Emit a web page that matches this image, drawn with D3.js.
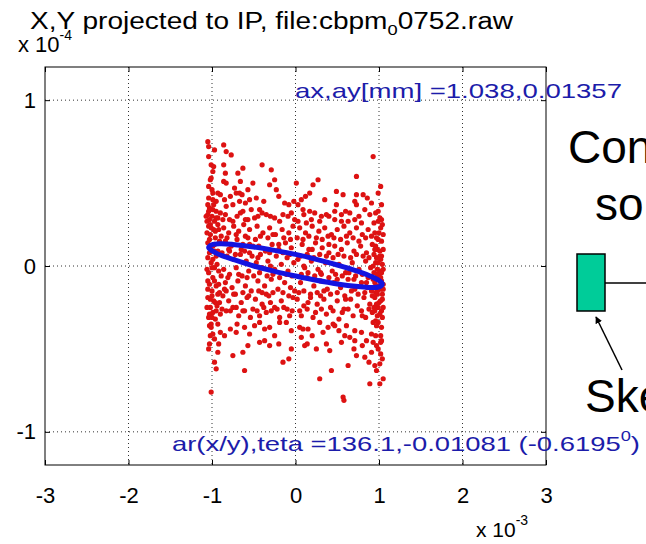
<!DOCTYPE html>
<html>
<head>
<meta charset="utf-8">
<script src="https://cdn.jsdelivr.net/npm/d3@7"></script>
<style>
body { margin: 0; background: #fff; }
text { font-family: "Liberation Sans", Arial, sans-serif; }
</style>
</head>
<body>
<svg id="chart" width="646" height="544"></svg>
<script>
// values are in axis units: x in 1e-3, y in 1e-4
const xTicks = [-3, -2, -1, 0, 1, 2, 3];
const yTicks = [-1, 0, 1];

const scatterPoints = [
  // upper left
  [-1.05,0.75],[-0.97,0.70],
  [-1.04,0.72],[-0.86,0.73],[-0.83,0.69],[-0.77,0.67],[-1.04,0.66],[-1.01,0.61],[-0.98,0.60],[-0.99,0.57],
  [-0.69,0.56],[-0.63,0.59],[-0.40,0.61],[-0.29,0.58],[-0.86,0.61],[-0.84,0.56],[-1.01,0.53],[-1.04,0.48],
  [-1.00,0.46],[-0.86,0.51],[-0.83,0.50],[-0.73,0.47],[-0.66,0.51],[-0.51,0.50],[-0.25,0.52],[-0.31,0.49],
  [-0.23,0.46],[-1.04,0.41],[-0.99,0.40],[-0.93,0.44],[-0.90,0.43],[-0.85,0.40],[-0.71,0.44],[-0.67,0.44],
  [-0.64,0.43],[-0.57,0.46],[-0.55,0.40],[-0.67,0.39],[-0.75,0.37],[-0.83,0.36],[-0.13,0.38],[-0.02,0.39],
  [-1.03,0.35],[-0.99,0.34],[-0.95,0.33],[-0.90,0.32],[-1.07,0.30],[-1.03,0.28],[-0.93,0.29],[-0.87,0.28],
  [-0.79,0.28],[-0.75,0.27],[-0.63,0.33],[-0.53,0.34],[-0.43,0.34],[-0.35,0.31],[-0.49,0.29],[-0.57,0.28],
  [-0.25,0.29],[-0.19,0.27],[-0.09,0.30],[-0.01,0.28],[-1.05,0.31],[-1.00,0.30],[-0.97,0.27],[-1.02,0.25],
  [-0.84,0.31],[-0.70,0.30],[-0.66,0.32],[-0.45,0.30],[-0.40,0.32],[-0.30,0.30],[-0.15,0.31],[-0.05,0.32],
  [-0.95,0.39],[-0.78,0.42],[-0.60,0.38],[-0.47,0.41],[-0.38,0.39],[-0.20,0.42],[-0.08,0.37],
  [-1.04,0.33],[-0.98,0.37],[-0.60,0.28],
  // upper right
  [0.93,0.66],[0.73,0.54],[0.27,0.52],[0.21,0.49],[0.17,0.44],[0.49,0.45],[0.73,0.43],[0.81,0.43],
  [0.01,0.50],[0.07,0.40],[0.03,0.37],[0.71,0.39],[0.73,0.37],[0.49,0.37],[0.91,0.38],[1.03,0.37],
  [0.09,0.34],[0.17,0.33],[0.47,0.33],[0.65,0.32],[0.83,0.34],[0.89,0.31],[0.31,0.30],[0.37,0.31],
  [0.19,0.28],[0.29,0.27],[0.47,0.28],[0.63,0.27],[0.71,0.28],[1.01,0.29],[1.03,0.28],[0.03,0.27],
  [0.13,0.26],[0.79,0.26],
  [0.10,0.31],[0.23,0.32],[0.40,0.30],[0.55,0.31],[0.60,0.33],[0.76,0.30],[0.96,0.32],
  [0.12,0.42],[0.35,0.40],[0.57,0.43],[0.86,0.41],[0.99,0.44],
  [0.99,0.27],[0.94,0.26],[0.55,0.27],
  // middle left
  [-1.04,0.24],[-0.98,0.22],[-0.93,0.25],[-1.02,0.19],[-0.96,0.17],[-1.05,0.14],[-0.99,0.12],[-0.91,0.15],
  [-1.03,0.08],[-0.95,0.06],[-1.01,0.02],[-0.97,-0.01],[-1.04,-0.04],[-0.92,-0.03],[-0.99,-0.07],[-1.03,-0.11],
  [-0.95,-0.12],[-1.00,-0.15],[-0.93,-0.17],[-1.05,-0.19],[-0.98,-0.21],[-1.02,-0.25],[-0.94,-0.24],[-0.99,-0.28],
  [-1.04,-0.31],[-0.96,-0.32],[-0.90,-0.29],[-1.01,-0.35],
  [-1.02,0.52],[-0.99,0.44],[-1.05,0.37],[-0.96,0.21],[-1.02,0.10],[-0.99,0.04],[-1.05,-0.09],[-0.96,-0.22],
  [-1.03,-0.29],[-0.99,-0.41],[-1.04,-0.50],[-0.97,-0.58],[-1.06,0.20],[-1.06,-0.02],[-1.00,-0.18],[-0.97,0.09],
  [-1.06,0.27],[-1.01,0.23],[-0.95,0.29],[-1.03,0.16],[-0.97,0.13],[-0.92,0.22],[-1.05,0.05],[-0.93,0.09],
  [-1.00,-0.01],[-0.94,0.01],[-1.05,-0.14],[-0.97,-0.09],[-0.92,-0.11],[-1.02,-0.20],[-0.95,-0.27],[-1.06,-0.25],
  [-0.91,-0.22],[-1.00,-0.31],[-0.93,-0.35],[-1.02,-0.42],[-0.92,-0.47],
  [-0.86,0.23],[-0.80,0.20],[-0.74,0.24],[-0.68,0.21],[-0.62,0.25],[-0.55,0.22],[-0.84,0.15],[-0.77,0.12],
  [-0.70,0.16],[-0.63,0.13],[-0.57,0.17],[-0.51,0.12],[-0.82,0.06],[-0.74,0.04],[-0.66,0.07],[-0.59,0.03],
  [-0.52,0.06],[-0.86,-0.02],[-0.79,-0.05],[-0.71,-0.01],[-0.64,-0.06],[-0.56,-0.03],[-0.84,-0.10],[-0.76,-0.13],
  [-0.69,-0.09],[-0.60,-0.12],[-0.53,-0.15],[-0.87,-0.18],[-0.80,-0.21],[-0.72,-0.17],[-0.65,-0.22],[-0.58,-0.19],
  [-0.83,-0.27],[-0.75,-0.25],[-0.68,-0.30],[-0.61,-0.27],[-0.54,-0.31],
  [-0.89,0.18],[-0.82,0.17],[-0.71,0.19],[-0.60,0.18],[-0.48,0.16],[-0.42,0.18],[-0.33,0.17],[-0.27,0.19],
  [-0.14,0.17],[-0.06,0.16],
  [-0.88,0.08],[-0.79,0.09],[-0.72,0.07],[-0.61,0.09],[-0.55,0.08],[-0.42,0.07],[-0.31,0.08],[-0.23,0.06],
  [-0.15,0.08],[-0.07,0.07],
  [-0.89,-0.06],[-0.81,-0.07],[-0.68,-0.05],[-0.58,-0.07],[-0.50,-0.06],[-0.43,-0.04],[-0.34,-0.06],[-0.27,-0.05],
  [-0.19,-0.07],[-0.11,-0.05],[-0.04,-0.06],
  [-0.91,-0.16],[-0.83,-0.15],[-0.74,-0.17],[-0.63,-0.16],[-0.56,-0.18],[-0.44,-0.15],[-0.35,-0.17],[-0.27,-0.16],
  [-0.15,-0.16],[-0.08,-0.18],[-0.01,-0.15],
  [-0.88,-0.26],[-0.78,-0.27],[-0.71,-0.25],[-0.63,-0.27],[-0.51,-0.26],[-0.46,-0.27],[-0.38,-0.25],[-0.29,-0.27],
  [-0.22,-0.26],[-0.14,-0.25],[-0.04,-0.27],
  [-0.80,0.10],[-0.65,0.10],[-0.45,0.05],[-0.30,0.00],[-0.10,0.05],[-0.55,0.13],[-0.20,0.13],[-0.85,-0.14],
  [-0.40,-0.16],[-0.30,-0.22],[-0.70,-0.35],
  [-0.46,0.24],[-0.39,0.20],[-0.31,0.23],[-0.24,0.19],[-0.16,0.22],[-0.08,0.20],[-0.03,0.24],[-0.44,0.12],
  [-0.36,0.09],[-0.28,0.13],[-0.20,0.10],[-0.12,0.14],[-0.05,0.11],[-0.47,0.02],[-0.40,-0.01],[-0.33,0.03],
  [-0.25,-0.02],[-0.17,0.01],[-0.09,-0.03],[-0.02,0.02],[-0.45,-0.09],[-0.37,-0.12],[-0.29,-0.08],[-0.21,-0.14],
  [-0.13,-0.10],[-0.06,-0.13],[-0.48,-0.20],[-0.40,-0.23],[-0.32,-0.18],[-0.25,-0.25],[-0.17,-0.21],[-0.10,-0.26],
  [-0.03,-0.19],[-0.43,-0.30],[-0.35,-0.28],[-0.19,-0.31],[-0.07,-0.30],
  // middle right
  [0.05,0.23],[0.12,0.20],[0.20,0.24],[0.28,0.21],[0.35,0.23],[0.43,0.19],[0.50,0.22],[0.58,0.24],
  [0.65,0.20],[0.73,0.23],[0.80,0.19],[0.87,0.22],[0.95,0.20],[1.02,0.23],
  [0.08,0.13],[0.16,0.10],[0.24,0.14],[0.32,0.11],[0.40,0.08],[0.47,0.12],[0.55,0.10],[0.62,0.14],
  [0.70,0.09],[0.78,0.12],[0.85,0.08],[0.92,0.13],[0.98,0.10],[1.03,0.06],
  [0.03,0.04],[0.11,-0.01],[0.19,0.03],[0.27,-0.02],[0.36,0.02],[0.44,-0.03],[0.52,0.01],[0.60,-0.04],
  [0.68,0.02],[0.76,-0.02],[0.84,0.03],[0.90,-0.01],[0.96,0.02],[1.01,-0.03],[1.04,0.01],
  [0.06,-0.10],[0.14,-0.07],[0.22,-0.12],[0.30,-0.09],[0.38,-0.14],[0.46,-0.10],[0.54,-0.13],[0.63,-0.08],
  [0.71,-0.14],[0.79,-0.10],[0.86,-0.13],[0.93,-0.08],[0.99,-0.12],[1.03,-0.09],
  [0.02,-0.20],[0.10,-0.24],[0.18,-0.19],[0.26,-0.23],[0.34,-0.20],[0.42,-0.25],[0.50,-0.21],[0.58,-0.26],
  [0.66,-0.20],[0.74,-0.24],[0.82,-0.19],[0.89,-0.23],[0.95,-0.19],[1.00,-0.22],[1.04,-0.17],
  [0.07,-0.30],[0.21,-0.31],[0.37,-0.29],[0.52,-0.32],[0.69,-0.30],[0.84,-0.31],[0.92,-0.28],[0.98,-0.30],
  [1.03,-0.27],[0.97,0.05],[1.00,-0.06],[0.94,-0.04],[1.02,-0.14],[0.96,-0.16],[0.99,-0.25],[1.03,0.15],
  [0.97,0.17],
  [0.02,0.17],[0.09,0.16],[0.16,0.18],[0.25,0.17],[0.32,0.16],[0.39,0.18],[0.46,0.17],[0.54,0.16],
  [0.61,0.18],[0.69,0.17],[0.76,0.15],[0.84,0.17],[0.91,0.18],[0.99,0.16],
  [0.06,0.06],[0.14,0.07],[0.22,0.05],[0.29,0.07],[0.37,0.06],[0.45,0.05],[0.51,0.07],[0.58,0.06],
  [0.66,0.05],[0.73,0.07],[0.81,0.06],[0.88,0.05],[0.94,0.07],[1.01,0.06],
  [0.07,-0.05],[0.15,-0.04],[0.23,-0.06],[0.31,-0.05],[0.40,-0.07],[0.48,-0.05],[0.56,-0.06],[0.64,-0.04],
  [0.72,-0.06],[0.80,-0.05],[0.87,-0.07],[0.98,-0.05],
  [0.04,-0.16],[0.10,-0.15],[0.18,-0.17],[0.26,-0.16],[0.34,-0.15],[0.42,-0.17],[0.50,-0.16],[0.59,-0.18],
  [0.67,-0.15],[0.75,-0.17],[0.83,-0.16],[0.91,-0.15],[0.98,-0.17],
  [0.05,-0.27],[0.14,-0.26],[0.24,-0.28],[0.31,-0.26],[0.45,-0.27],[0.56,-0.28],[0.63,-0.26],[0.79,-0.27],
  [0.88,-0.26],[0.95,-0.27],[1.01,-0.29],
  [0.10,0.00],[0.30,-0.04],[0.50,-0.08],[0.70,-0.08],[0.85,-0.10],[0.20,0.10],[0.40,0.13],[0.30,-0.18],
  [0.60,-0.20],[0.15,-0.22],[0.80,-0.30],
  [1.02,0.48],[0.99,0.33],[1.04,0.25],[0.96,0.12],[1.02,0.04],[0.99,-0.07],[1.04,-0.20],[0.96,-0.33],
  [1.02,-0.42],[0.99,-0.50],[1.04,-0.56],[0.97,-0.63],[1.05,0.10],[1.05,-0.11],[1.00,0.20],[0.97,-0.23],
  [1.05,-0.02],[0.98,-0.02],[0.93,0.00],[1.02,-0.07],[0.95,-0.10],[1.05,-0.14],[0.98,-0.15],[0.92,-0.18],
  [1.02,-0.21],[1.05,-0.25],[0.94,-0.25],[0.99,-0.34],[1.04,-0.31],[0.93,-0.34],[1.01,0.09],[0.95,0.10],
  [1.05,0.19],[0.99,0.02],[1.03,-0.04],
  // lower left
  [-1.03,-0.36],[-1.01,-0.37],[-0.85,-0.42],[-0.71,-0.40],[-0.61,-0.37],[-0.49,-0.36],[-0.43,-0.34],[-0.37,-0.38],
  [-0.31,-0.37],[-0.19,-0.34],[-0.11,-0.34],[-0.05,-0.39],[-1.03,-0.47],[-0.93,-0.52],[-0.75,-0.54],[-0.63,-0.52],
  [-0.43,-0.46],[-0.37,-0.45],[-0.31,-0.48],[-0.05,-0.50],[-0.15,-0.58],[-0.08,-0.56],[-0.61,-0.63],[-1.01,-0.76],
  [-0.90,-0.40],[-0.78,-0.38],[-0.55,-0.41],[-0.25,-0.42],[-0.97,-0.44],[-0.20,-0.47],[-0.95,-0.62],[-0.57,-0.48],
  // lower right
  [0.05,-0.37],[0.09,-0.38],[0.15,-0.38],[0.29,-0.34],[0.39,-0.37],[0.47,-0.36],[0.61,-0.36],[0.71,-0.39],
  [0.79,-0.40],[0.91,-0.41],[0.97,-0.36],[1.03,-0.37],[0.07,-0.43],[0.11,-0.48],[0.14,-0.47],[0.37,-0.47],
  [0.41,-0.51],[0.55,-0.46],[0.59,-0.42],[0.71,-0.45],[0.70,-0.50],[0.73,-0.54],[0.83,-0.55],[0.93,-0.46],
  [0.97,-0.48],[1.02,-0.46],[0.91,-0.52],[1.02,-0.53],[1.01,-0.59],[0.95,-0.60],[0.63,-0.60],[0.43,-0.63],
  [0.29,-0.68],[1.05,-0.68],[1.01,-0.71],[0.89,-0.71],[0.57,-0.79],[0.58,-0.81],
  [0.20,-0.42],[0.33,-0.40],[0.52,-0.39],[0.65,-0.43],[0.85,-0.45],[0.25,-0.50],[0.80,-0.48],[0.88,-0.58],
  [1.03,-0.45],[0.96,-0.42],[0.45,-0.35]
];

// fitted beam ellipse
const ellipsePoints = [
  [-1.04,0.112],[-1.0,0.128],[-0.9,0.134],[-0.75,0.13],[-0.5,0.115],[-0.25,0.094],[0,0.07],
  [0.25,0.04],[0.5,0.006],[0.75,-0.033],[0.9,-0.062],[1.0,-0.088],[1.04,-0.108],
  [1.0,-0.126],[0.9,-0.13],[0.75,-0.124],[0.5,-0.108],[0.25,-0.086],[0,-0.06],
  [-0.25,-0.032],[-0.5,0.0],[-0.75,0.04],[-0.9,0.066],[-1.0,0.092]
];

const svg = d3.select("#chart");
svg.append("rect").attr("width", 646).attr("height", 544).attr("fill", "#fff");

const x = d3.scaleLinear().domain([-3, 3]).range([45, 546]);
const y = d3.scaleLinear().domain([-1.2, 1.2]).range([465, 67]);

const plot = svg.append("g");

// dotted grid
plot.selectAll("line.gx")
  .data(xTicks.slice(1, -1))
  .enter()
  .append("line")
  .attr("class", "gx")
  .attr("x1", d => x(d)).attr("x2", d => x(d))
  .attr("y1", y(1.2)).attr("y2", y(-1.2))
  .attr("stroke", "#333")
  .attr("stroke-dasharray", "1,3");

plot.selectAll("line.gy")
  .data(yTicks)
  .enter()
  .append("line")
  .attr("class", "gy")
  .attr("y1", d => y(d)).attr("y2", d => y(d))
  .attr("x1", x(-3)).attr("x2", x(3))
  .attr("stroke", "#333")
  .attr("stroke-dasharray", "1,3");

// scatter
plot.selectAll("circle.pt")
  .data(scatterPoints)
  .enter()
  .append("circle")
  .attr("class", "pt")
  .attr("cx", d => x(d[0]))
  .attr("cy", d => y(d[1]))
  .attr("r", 2.6)
  .attr("fill", "#dd1212");

// ellipse
const line = d3.line()
  .x(d => x(d[0]))
  .y(d => y(d[1]))
  .curve(d3.curveCatmullRomClosed);

plot.append("path")
  .attr("d", line(ellipsePoints))
  .attr("fill", "none")
  .attr("stroke", "#1414e0")
  .attr("stroke-width", 5);

// axes, ticks pointing inward
const axisStyle = g => {
  g.select(".domain").remove();
  g.selectAll("text")
    .style("font-size", "22px")
    .style("font-family", "'Liberation Sans', Arial, sans-serif")
    .attr("fill", "#000");
};

const fmt = d => String(d);

svg.append("g")
  .attr("transform", `translate(0,${y(-1.2)})`)
  .call(d3.axisBottom(x).tickValues(xTicks).tickFormat(fmt).tickSizeInner(-5).tickSizeOuter(0).tickPadding(22))
  .call(axisStyle);

svg.append("g")
  .attr("transform", `translate(0,${y(1.2)})`)
  .call(d3.axisTop(x).tickValues(xTicks).tickFormat("").tickSizeInner(-5).tickSizeOuter(0))
  .call(axisStyle);

svg.append("g")
  .attr("transform", `translate(${x(-3)},0)`)
  .call(d3.axisLeft(y).tickValues(yTicks).tickFormat(fmt).tickSizeInner(-5).tickSizeOuter(0).tickPadding(9))
  .call(axisStyle);

svg.append("g")
  .attr("transform", `translate(${x(3)},0)`)
  .call(d3.axisRight(y).tickValues(yTicks).tickFormat("").tickSizeInner(-5).tickSizeOuter(0))
  .call(axisStyle);

svg.append("rect")
  .attr("x", x(-3)).attr("y", y(1.2))
  .attr("width", x(3) - x(-3)).attr("height", y(-1.2) - y(1.2))
  .attr("fill", "none")
  .attr("stroke", "#000");

// exponent labels
const expY = svg.append("text").attr("x", 18).attr("y", 52).style("font-size", "22px");
expY.append("tspan").text("x 10");
expY.append("tspan").attr("dy", -12).style("font-size", "14px").text("-4");

const expX = svg.append("text").attr("x", 476).attr("y", 537).style("font-size", "21px");
expX.append("tspan").text("x 10");
expX.append("tspan").attr("dy", -12).style("font-size", "14px").text("-3");

// title, drawn after the exponent as in the figure
const title = svg.append("text").attr("x", 30).attr("y", 29).style("font-size", "23px")
  .attr("textLength", 483).attr("lengthAdjust", "spacingAndGlyphs");
title.append("tspan").text("X,Y projected to IP, file:cbpm");
title.append("tspan").attr("dy", 6).style("font-size", "15px").text("0");
title.append("tspan").attr("dy", -6).text("0752.raw");

// blue annotations
svg.append("text")
  .attr("x", 295).attr("y", 98)
  .attr("fill", "#1c1caa")
  .style("font-size", "21px")
  .attr("textLength", 327).attr("lengthAdjust", "spacingAndGlyphs")
  .text("ax,ay[mm] =1.038,0.01357");

const ann = svg.append("text")
  .attr("x", 172).attr("y", 451)
  .attr("fill", "#1c1caa")
  .style("font-size", "21px")
  .attr("textLength", 468).attr("lengthAdjust", "spacingAndGlyphs");
ann.append("tspan").text("ar(x/y),teta =136.1,-0.01081 (-0.6195");
ann.append("tspan").attr("dy", -10).style("font-size", "14px").text("0");
ann.append("tspan").attr("dy", 10).text(")");

// slide overlay on the right
const big = [["Con", 568, 163], ["so", 595, 220], ["Ske", 585, 412]];
svg.selectAll("text.big")
  .data(big)
  .enter()
  .append("text")
  .attr("class", "big")
  .attr("x", d => d[1]).attr("y", d => d[2])
  .style("font-size", "46px")
  .attr("fill", "#000")
  .text(d => d[0]);

svg.append("rect")
  .attr("x", 577).attr("y", 254).attr("width", 28).attr("height", 57)
  .attr("fill", "#00cc99").attr("stroke", "#000").attr("stroke-width", 1.5);
svg.append("line")
  .attr("x1", 605).attr("x2", 646).attr("y1", 283).attr("y2", 283)
  .attr("stroke", "#000").attr("stroke-width", 1.5);

svg.append("defs").append("marker")
  .attr("id", "arrow")
  .attr("viewBox", "0 0 10 10")
  .attr("refX", 9).attr("refY", 5)
  .attr("markerWidth", 7).attr("markerHeight", 7)
  .attr("markerUnits", "userSpaceOnUse")
  .attr("orient", "auto")
  .append("path")
  .attr("d", "M0,0L10,5L0,10z")
  .attr("fill", "#000");
svg.append("line")
  .attr("x1", 622).attr("y1", 370).attr("x2", 596).attr("y2", 317)
  .attr("stroke", "#000").attr("stroke-width", 1.5)
  .attr("marker-end", "url(#arrow)");
</script>
</body>
</html>
